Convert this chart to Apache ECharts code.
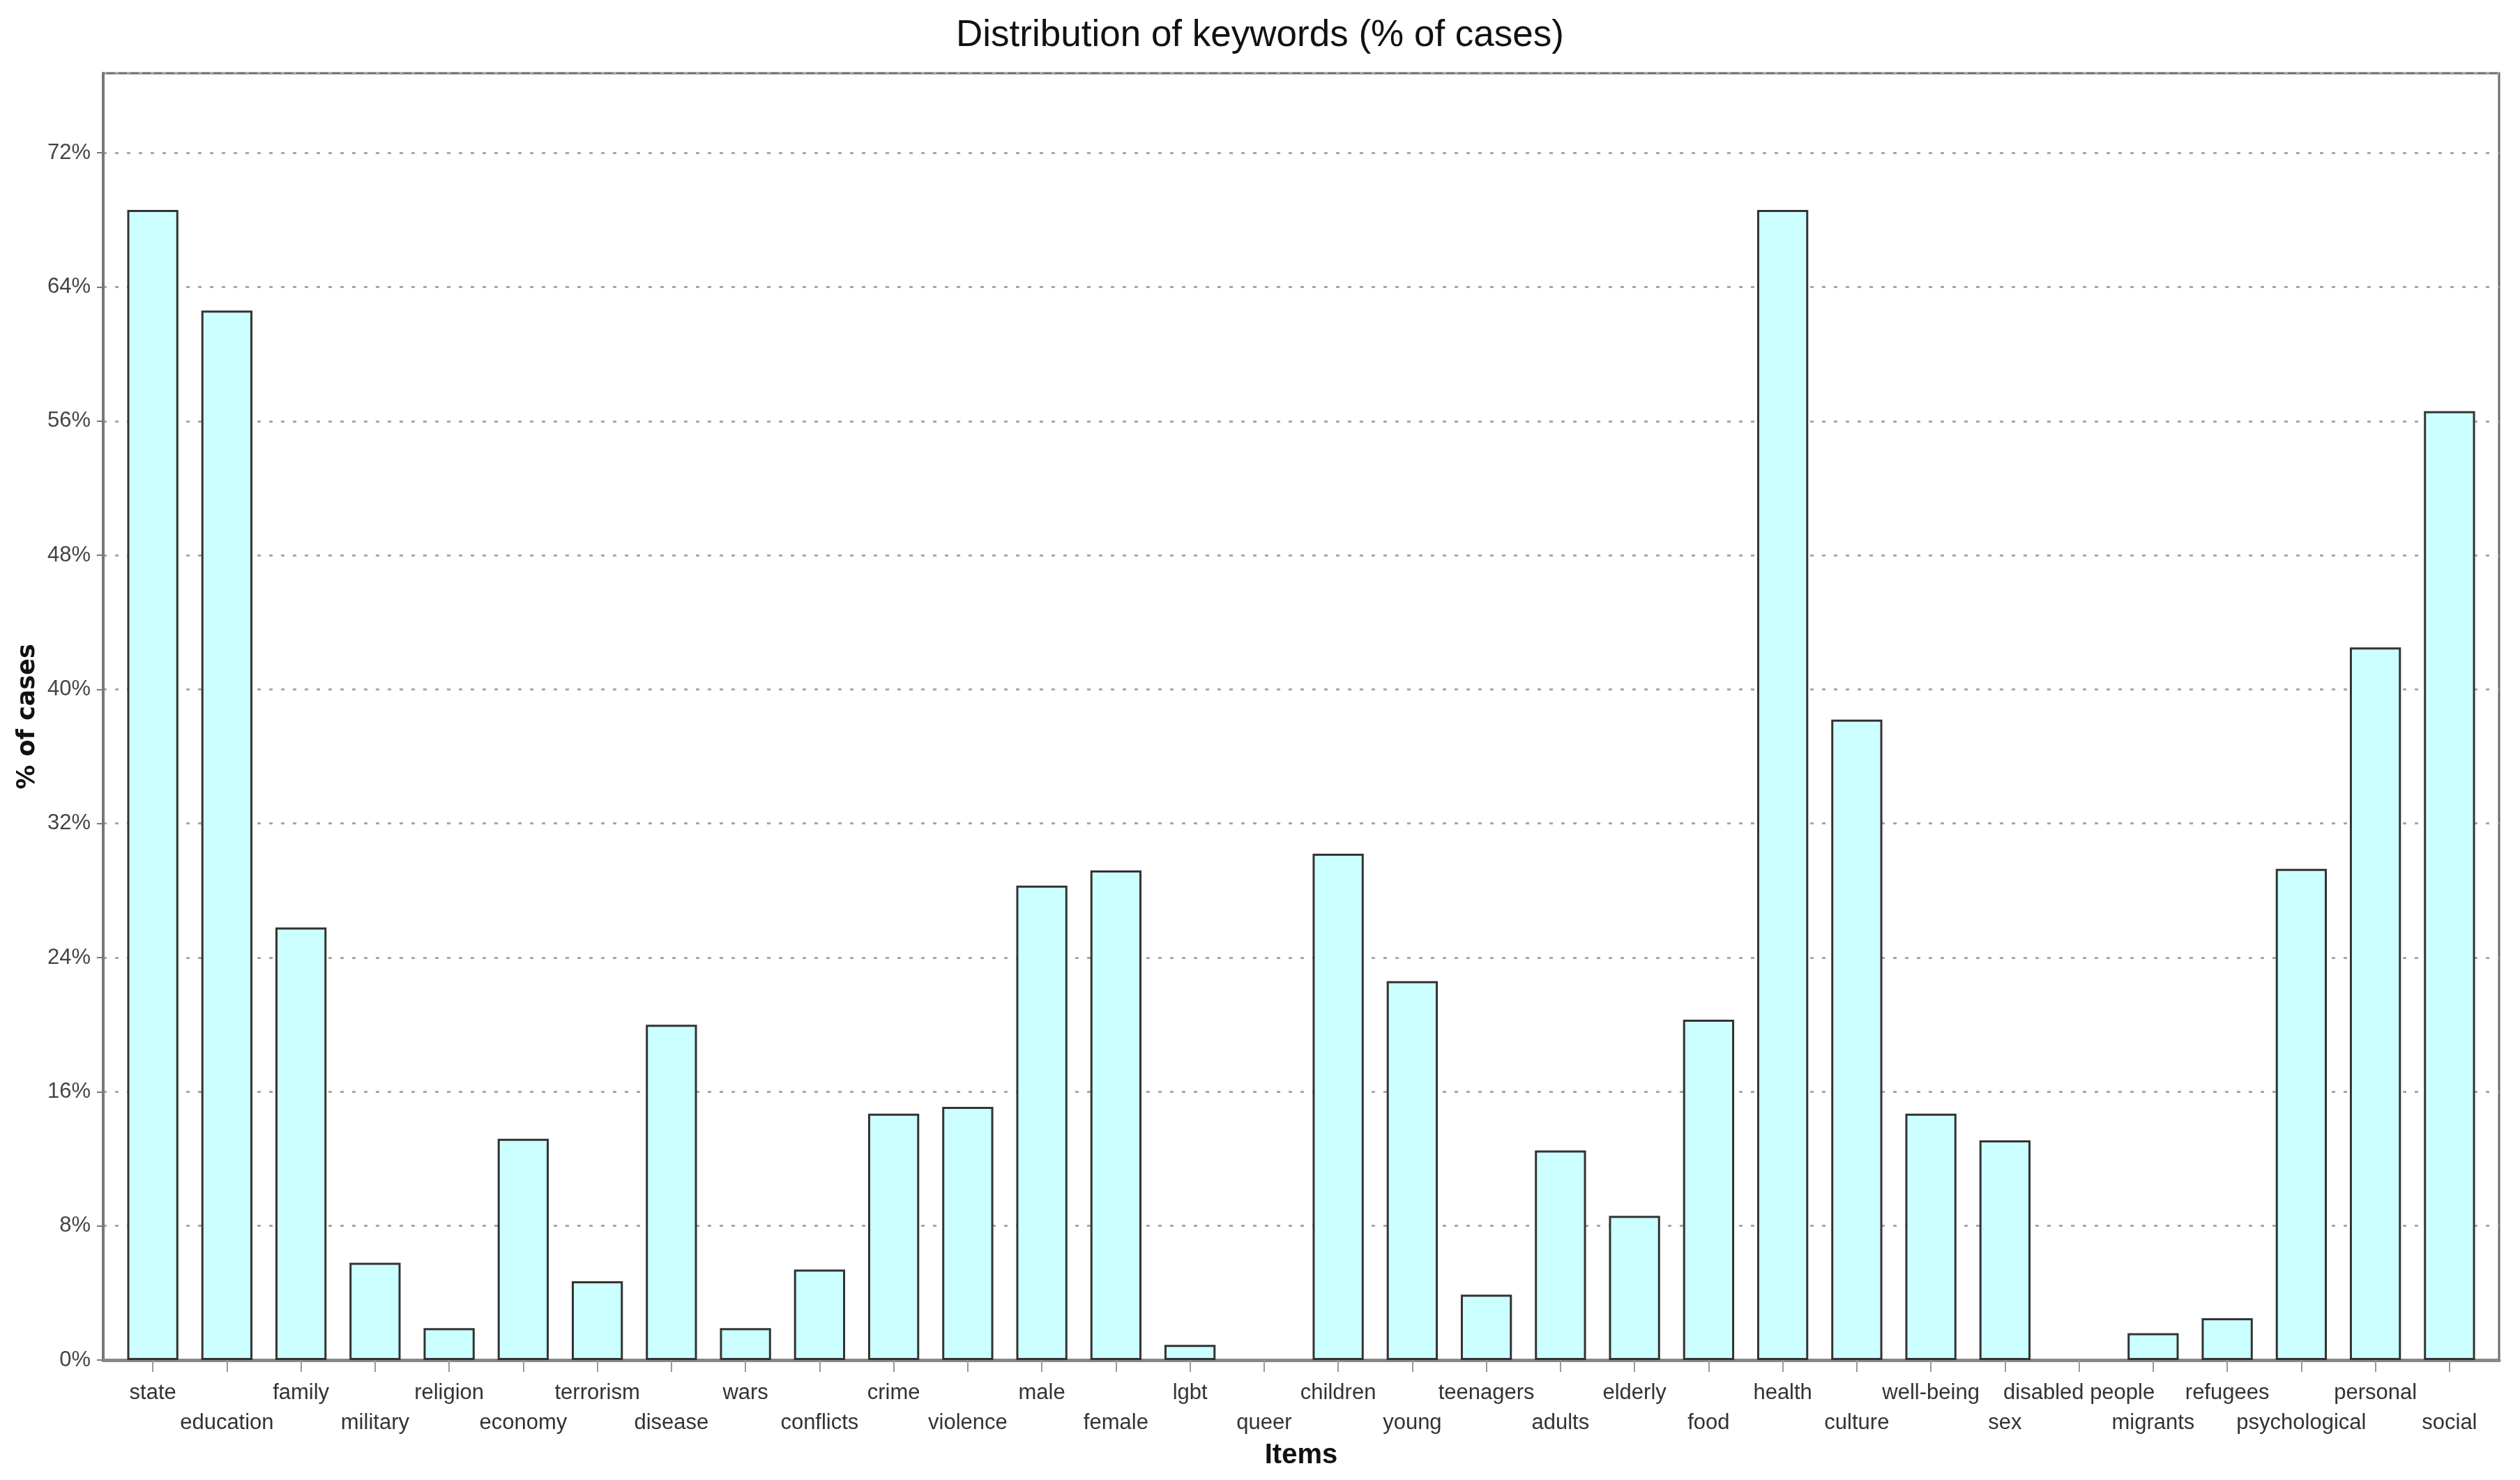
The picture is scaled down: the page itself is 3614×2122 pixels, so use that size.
<!DOCTYPE html>
<html>
<head>
<meta charset="utf-8">
<script src="https://cdn.jsdelivr.net/npm/echarts@6/dist/echarts.min.js"></script>
<style>
html,body{margin:0;padding:0;background:#fff;}
#chart{width:3614px;height:2122px;}
</style>
</head>
<body>
<div id="chart"></div>
<script>
const categories = ['state','education','family','military','religion','economy','terrorism','disease','wars','conflicts','crime','violence','male','female','lgbt','queer','children','young','teenagers','adults','elderly','food','health','culture','well-being','sex','disabled people','migrants','refugees','psychological','personal','social'];
const percentCases = [68.6,62.6,25.8,5.8,1.9,13.2,4.7,20.0,1.9,5.4,14.7,15.1,28.3,29.2,0.9,0,30.2,22.6,3.9,12.5,8.6,20.3,68.6,38.2,14.7,13.1,0,1.6,2.5,29.3,42.5,56.6];
const yTicks = [0,8,16,24,32,40,48,56,64,72];

const FONT = "'Liberation Sans Narrow','Liberation Sans',Arial,sans-serif";
const Y_MAX = 76.75;
const chart = echarts.init(document.getElementById('chart'));
chart.setOption({
  backgroundColor: '#ffffff',
  animation: false,
  title: {
    text: 'Distribution of keywords (% of cases)',
    left: 'center',
    top: 20,
    textStyle: {fontFamily: FONT, fontSize: 53, fontWeight: 'normal', color: '#111'}
  },
  grid: [
    {left: 166, right: 48, top: 105, bottom: 172, show: false},
    {left: 148, right: 30, top: 105, bottom: 172, show: true, borderColor: '#6a6a6a', borderWidth: 3, z: 0}
  ],
  xAxis: [{
    gridIndex: 0,
    type: 'category',
    data: categories,
    name: 'Items',
    nameLocation: 'middle',
    nameGap: 108,
    nameTextStyle: {fontFamily: FONT, fontSize: 40, fontWeight: 'bold', color: '#111'},
    axisLine: {show: false},
    axisTick: {show: true, alignWithLabel: true, length: 17, lineStyle: {color: '#999', width: 2}},
    axisLabel: {
      interval: 0,
      margin: 26,
      fontFamily: FONT,
      fontSize: 31,
      lineHeight: 43,
      color: '#333',
      formatter: function (v, i) { return i % 2 === 1 ? '\n' + v : v; }
    }
  }, {
    gridIndex: 1,
    type: 'value',
    min: 0, max: 1,
    axisLine: {show: true, onZero: false, lineStyle: {color: '#888', width: 5}},
    axisTick: {show: false},
    axisLabel: {show: false},
    splitLine: {show: false}
  }],
  yAxis: [{
    gridIndex: 0,
    type: 'value',
    min: 0,
    max: Y_MAX,
    interval: 8,
    offset: 18,
    name: '% of cases',
    nameLocation: 'middle',
    nameGap: 82,
    nameTextStyle: {fontFamily: "'DejaVu Sans',sans-serif", fontSize: 35, fontWeight: 'bold', color: '#111'},
    axisLine: {show: true, lineStyle: {color: '#777', width: 4}},
    axisTick: {show: true, length: 9, lineStyle: {color: '#777', width: 2}},
    axisLabel: {
      showMaxLabel: false,
      margin: 18,
      fontFamily: FONT,
      fontSize: 31,
      color: '#444',
      formatter: function (v) { return yTicks.indexOf(v) >= 0 ? v + '%' : ''; }
    },
    splitLine: {show: false}
  }, {
    gridIndex: 1,
    type: 'value',
    min: 0,
    max: Y_MAX,
    interval: 8,
    axisLine: {show: false},
    axisTick: {show: false},
    axisLabel: {show: false},
    splitLine: {show: true, lineStyle: {color: '#a8a8a8', width: 3, type: [5, 12]}}
  }],
  series: [{
    type: 'bar',
    xAxisIndex: 0,
    yAxisIndex: 0,
    data: percentCases.map(function (v) { return v === 0 ? null : v; }),
    barWidth: '69%',
    z: 3,
    itemStyle: {color: '#ccffff', borderColor: '#333', borderWidth: 3}
  }]
});
</script>
</body>
</html>
